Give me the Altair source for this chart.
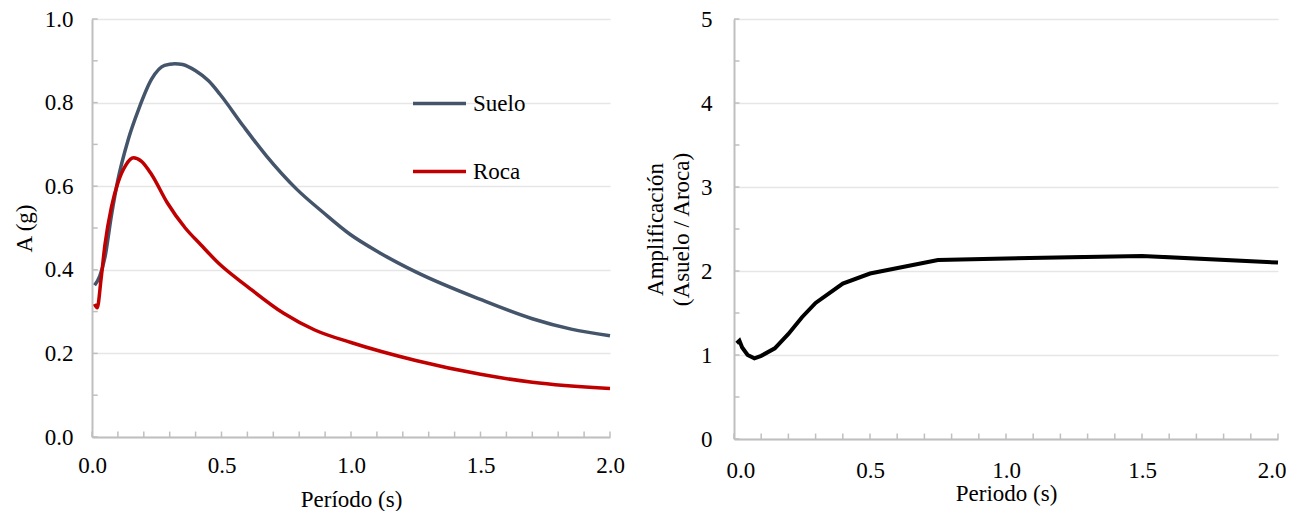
import altair as alt
import pandas as pd

FONT = "Liberation Serif"
AXIS_COLOR = "#bfbfbf"
GRID_COLOR = "#e6e6e6"

# Left panel: response spectra (A in g vs period in s)
T_suelo = [0.01, 0.03, 0.05, 0.075, 0.10, 0.14, 0.18, 0.23, 0.28, 0.32, 0.35, 0.40, 0.45, 0.494,
           0.584, 0.674, 0.79, 0.893, 0.996, 1.11, 1.25, 1.50, 1.70, 1.85, 2.00]
A_suelo = [0.363, 0.385, 0.43, 0.53, 0.615, 0.712, 0.784, 0.856, 0.889, 0.893, 0.891, 0.876, 0.852, 0.820,
           0.744, 0.672, 0.593, 0.537, 0.485, 0.441, 0.395, 0.329, 0.283, 0.258, 0.242]
T_roca = [0.01, 0.02, 0.035, 0.05, 0.075, 0.10, 0.13, 0.16, 0.19, 0.23, 0.29, 0.36, 0.42, 0.49,
          0.60, 0.74, 0.86, 1.00, 1.25, 1.50, 1.70, 2.00]
A_roca = [0.318, 0.309, 0.378, 0.46, 0.55, 0.608, 0.650, 0.668, 0.660, 0.628, 0.561, 0.500, 0.460, 0.415,
          0.360, 0.296, 0.256, 0.226, 0.183, 0.150, 0.131, 0.116]
series = ["Suelo", "Roca"]
series_colors = ["#44546a", "#c00000"]

# Right panel: amplification ratio
T_amp = [0.01, 0.02, 0.03, 0.05, 0.075, 0.10, 0.15, 0.20, 0.25, 0.30, 0.40, 0.50, 0.75, 1.00, 1.50, 2.00]
amp = [1.14, 1.17, 1.09, 1.00, 0.96, 0.99, 1.08, 1.25, 1.45, 1.62, 1.85, 1.97, 2.13, 2.15, 2.18, 2.10]

# Axis ticks / labels
x_major = [0.0, 0.5, 1.0, 1.5, 2.0]
x_minor = [0.0, 0.1, 0.2, 0.3, 0.4, 0.5, 0.6, 0.7, 0.8, 0.9, 1.0,
           1.1, 1.2, 1.3, 1.4, 1.5, 1.6, 1.7, 1.8, 1.9, 2.0]
y1_major = [0.0, 0.2, 0.4, 0.6, 0.8, 1.0]
y1_minor = [0.0, 0.1, 0.2, 0.3, 0.4, 0.5, 0.6, 0.7, 0.8, 0.9, 1.0]
y2_major = [0, 1, 2, 3, 4, 5]
y2_minor = [0, 0.5, 1, 1.5, 2, 2.5, 3, 3.5, 4, 4.5, 5]

df_spec = pd.DataFrame({
    "T": T_suelo + T_roca,
    "A": A_suelo + A_roca,
    "Serie": ["Suelo"] * len(T_suelo) + ["Roca"] * len(T_roca),
})
df_amp = pd.DataFrame({"T": T_amp, "R": amp})

xscale = alt.Scale(domain=[0, 2], nice=False, zero=False)
y1scale = alt.Scale(domain=[0, 1], nice=False)
y2scale = alt.Scale(domain=[0, 5], nice=False)

# ---------- left chart ----------
left_lines = alt.Chart(df_spec).mark_line(strokeWidth=3.5, interpolate="monotone").encode(
    x=alt.X("T:Q", scale=xscale,
            axis=alt.Axis(title="Período (s)", values=x_major, format=".1f", ticks=False,
                          labelFlush=False, labelPadding=17, titlePadding=11)),
    y=alt.Y("A:Q", scale=y1scale,
            axis=alt.Axis(title="A (g)", values=y1_major, format=".1f", ticks=False,
                          labelFlush=False, labelPadding=19, titlePadding=8)),
    color=alt.Color("Serie:N", scale=alt.Scale(domain=series, range=series_colors),
                    legend=alt.Legend(title=None, orient="none", legendX=319, legendY=56,
                                      symbolType="stroke", symbolSize=2809, symbolStrokeWidth=3.5,
                                      labelFont=FONT, labelFontSize=23, labelColor="black",
                                      labelOffset=5, rowPadding=27, padding=0)),
    detail="Serie:N",
)

left_yticks = alt.Chart(pd.DataFrame({"A": y1_minor})).mark_rule(color=AXIS_COLOR, strokeWidth=1.5).encode(
    y=alt.Y("A:Q", scale=y1scale), x=alt.datum(0), x2=alt.datum(0.022))
left_xticks = alt.Chart(pd.DataFrame({"T": x_minor})).mark_rule(color=AXIS_COLOR, strokeWidth=1.5).encode(
    x=alt.X("T:Q", scale=xscale), y=alt.datum(0), y2=alt.datum(0.013))

left = alt.layer(left_yticks, left_xticks, left_lines).properties(width=518, height=418)

# ---------- right chart ----------
right_line = alt.Chart(df_amp).mark_line(strokeWidth=4, color="black").encode(
    x=alt.X("T:Q", scale=xscale,
            axis=alt.Axis(title="Periodo (s)", values=x_major, format=".1f", ticks=False,
                          labelFlush=True, labelFlushOffset=8, labelPadding=20, titlePadding=0)),
    y=alt.Y("R:Q", scale=y2scale,
            axis=alt.Axis(title=["Amplificación", "(Asuelo / Aroca)"], values=y2_major, format="d",
                          ticks=False, labelFlush=False, labelPadding=22, titlePadding=7,
                          titleLineHeight=26)),
)
right_yticks = alt.Chart(pd.DataFrame({"R": y2_minor})).mark_rule(color=AXIS_COLOR, strokeWidth=1.5).encode(
    y=alt.Y("R:Q", scale=y2scale), x=alt.datum(0), x2=alt.datum(0.02))
right_xticks = alt.Chart(pd.DataFrame({"T": x_minor})).mark_rule(color=AXIS_COLOR, strokeWidth=1.5).encode(
    x=alt.X("T:Q", scale=xscale), y=alt.datum(0), y2=alt.datum(0.065))

right = alt.layer(right_yticks, right_xticks, right_line).properties(width=544, height=420)

chart = alt.hconcat(left, right, spacing=19).configure_axis(
    domainColor=AXIS_COLOR, domainWidth=2,
    gridColor=GRID_COLOR, gridWidth=1.5,
    labelFont=FONT, labelFontSize=23, labelColor="black",
    titleFont=FONT, titleFontSize=23, titleFontWeight="normal", titleColor="black",
).configure_view(stroke=None).properties(
    padding={"left": 5, "top": 0, "right": 0, "bottom": 0}
)

chart.save("out.html", embed_options={"renderer": "svg", "actions": False})
